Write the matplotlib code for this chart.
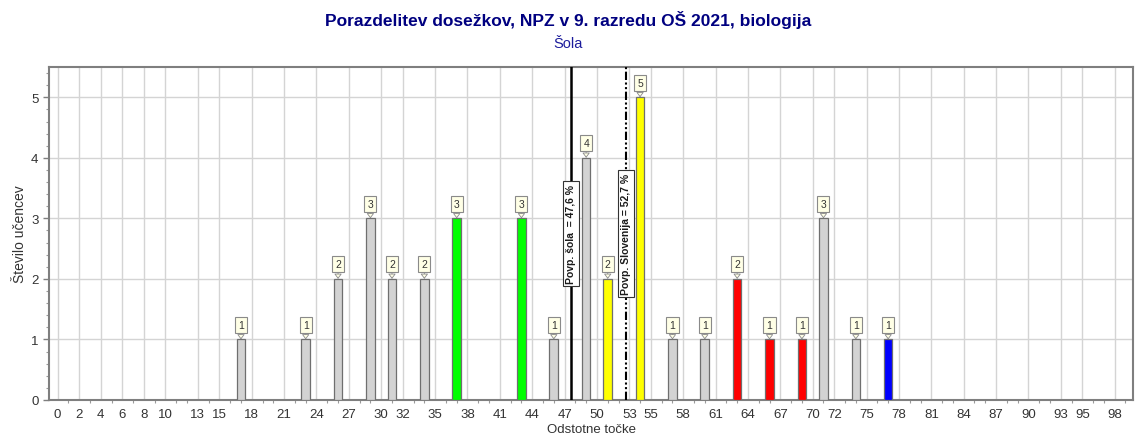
import matplotlib
matplotlib.use("Agg")
import matplotlib.pyplot as plt
from matplotlib.ticker import MultipleLocator, FixedLocator

# ---- data ----
percent = [17, 23, 26, 29, 31, 34, 37, 43, 46, 49, 51, 54, 57, 60, 63, 66, 69, 71, 74, 77]
counts = [1, 1, 2, 3, 2, 2, 3, 3, 1, 4, 2, 5, 1, 1, 2, 1, 1, 3, 1, 1]
bar_colors = ["#d3d3d3", "#d3d3d3", "#d3d3d3", "#d3d3d3", "#d3d3d3", "#d3d3d3",
              "#00ff00", "#00ff00", "#d3d3d3", "#d3d3d3", "#ffff00", "#ffff00",
              "#d3d3d3", "#d3d3d3", "#ff0000", "#ff0000", "#ff0000", "#d3d3d3",
              "#d3d3d3", "#0000ff"]
xtick_values = [0, 2, 4, 6, 8, 10, 13, 15, 18, 21, 24, 27, 30, 32, 35, 38, 41, 44, 47,
                50, 53, 55, 58, 61, 64, 67, 70, 72, 75, 78, 81, 84, 87, 90, 93, 95, 98]
mean_school = 47.6
mean_slo = 52.7
title = "Porazdelitev dosežkov, NPZ v 9. razredu OŠ 2021, biologija"
subtitle = "Šola"

plt.rcParams['font.family'] = ['Liberation Sans', 'DejaVu Sans']

fig = plt.figure(figsize=(11.36, 4.39), dpi=100)
ax = fig.add_axes([0.0431, 0.0866, 0.9543, 0.7584])

ax.set_xlim(-0.8, 99.7)
ax.set_ylim(0, 5.5)

ax.xaxis.set_major_locator(FixedLocator(xtick_values))
ax.xaxis.set_minor_locator(MultipleLocator(1))
ax.yaxis.set_major_locator(MultipleLocator(1))
ax.yaxis.set_minor_locator(MultipleLocator(0.2))
ax.grid(True, which='major', color='#d4d4d4', linewidth=1.0)
ax.set_axisbelow(True)

for s in ax.spines.values():
    s.set_color('#7f7f7f')
    s.set_linewidth(1.5)
ax.tick_params(axis='both', which='major', labelsize=9.5, colors='#7f7f7f',
               labelcolor='#333333', length=4, width=1)
ax.tick_params(axis='both', which='minor', colors='#9a9a9a', length=2, width=0.8)
ax.tick_params(axis='x', which='major', length=0, pad=6)

ax.bar(percent, counts, width=0.8, color=bar_colors, edgecolor='#6f6f6f',
       linewidth=0.9, zorder=3)

# value callouts
for x, c in zip(percent, counts):
    ax.annotate(str(c), xy=(x, c), xytext=(0, 10.5), textcoords='offset points',
                ha='center', va='center', fontsize=7.5, color='#333333', zorder=5,
                bbox=dict(boxstyle='square,pad=0.3', fc='#ffffe6', ec='#8a8a8a', lw=0.8),
                arrowprops=dict(arrowstyle='-|>,head_width=0.3,head_length=0.4',
                                color='#8a8a8a', lw=0.6, shrinkA=0, shrinkB=0,
                                fc='#ffffe6'))

# mean lines
ax.axvline(mean_school, color='black', linewidth=1.8, zorder=4)
ax.axvline(mean_slo, color='black', linewidth=1.5, linestyle=(0, (4, 1.2, 1, 1.2, 1, 1.2)),
           zorder=4)
ax.text(mean_school, 2.75, "Povp. šola  = 47,6 %", rotation=90, ha='center', va='center',
        fontsize=7.5, fontweight='bold', color='#1a1a1a', zorder=6,
        bbox=dict(boxstyle='square,pad=0.25', fc='white', ec='#333333', lw=0.8))
ax.text(mean_slo, 2.75, "Povp. Slovenija = 52,7 %", rotation=90, ha='center', va='center',
        fontsize=7.5, fontweight='bold', color='#1a1a1a', zorder=6,
        bbox=dict(boxstyle='square,pad=0.25', fc='white', ec='#333333', lw=0.8))

ax.set_xlabel("Odstotne točke", fontsize=9.5, color='#333333', labelpad=2)
ax.set_ylabel("Število učencev", fontsize=10, color='#333333', labelpad=3)

fig.text(0.5, 0.955, title, ha='center', va='center', fontsize=12.5, fontweight='bold',
         color='#000080')
fig.text(0.5, 0.899, subtitle, ha='center', va='center', fontsize=10.5, color='#1c1c9c')

fig.savefig("out.png", dpi=100)
